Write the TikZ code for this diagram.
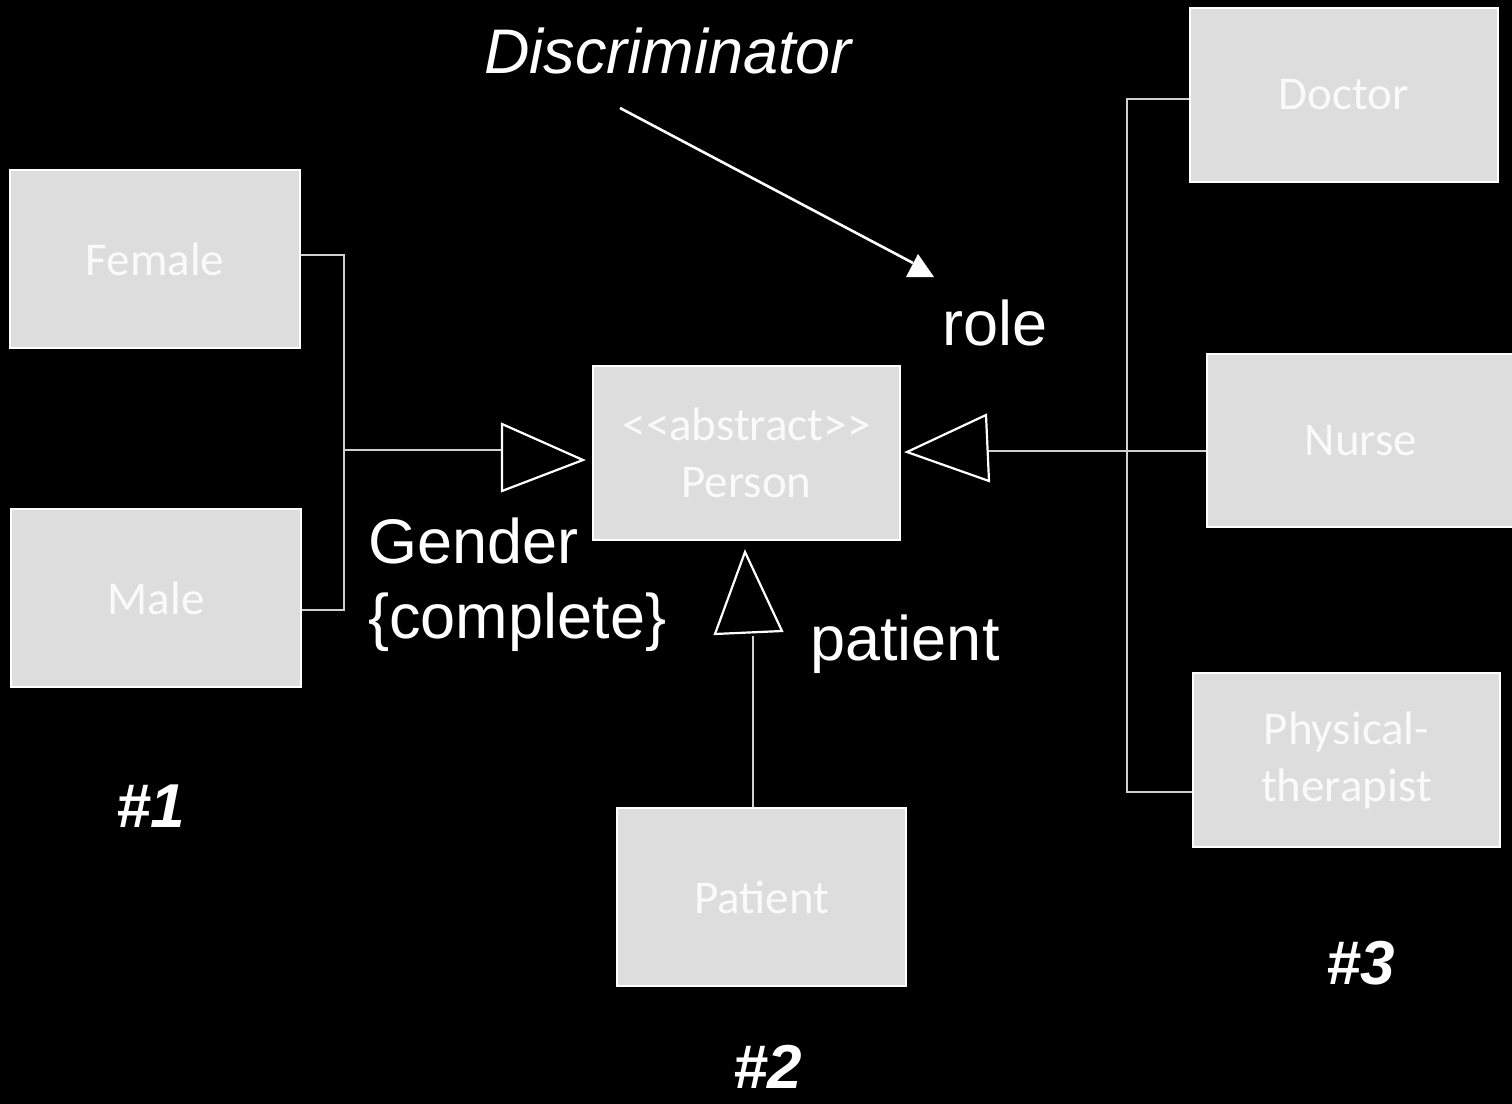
\documentclass[tikz,border=0pt]{standalone}
\usepackage{fontspec}
\setmainfont{Liberation Sans}
\newfontfamily\calibri{Carlito}
\definecolor{boxfill}{HTML}{DDDDDD}
\definecolor{boxtext}{HTML}{FAFAFA}
\definecolor{connline}{HTML}{D0D0D0}
\begin{document}
\begin{tikzpicture}[x=0.5pt,y=-0.5pt,
  classbox/.style={draw=white, line width=1pt, fill=boxfill, text=boxtext,
    font=\calibri\fontsize{23.5}{28.5}\selectfont, align=center, inner sep=0pt},
  conn/.style={draw=connline, line width=1pt},
  hollowtri/.style={draw=white, line width=1.1pt, line join=miter},
  label/.style={text=white, font=\fontsize{31.5}{37.5}\selectfont, inner sep=0pt},
  tag/.style={text=white, font=\bfseries\itshape\fontsize{31}{37}\selectfont, inner sep=0pt}]

% canvas
\fill[black] (0,0) rectangle (1512,1104);
\useasboundingbox (0,0) rectangle (1512,1104);

% classes
\node[classbox, minimum width=145pt, minimum height=89pt] (female) at (155,259) {Female};
\node[classbox, minimum width=145pt, minimum height=89pt] (male) at (156,598) {Male};
\node[classbox, minimum width=153.5pt, minimum height=87pt] (person) at (746.5,453) {<<abstract>>\\Person};
\node[classbox, minimum width=154pt, minimum height=87pt] (doctor) at (1344,95) {Doctor};
\node[classbox, minimum width=154pt, minimum height=86.5pt] (nurse) at (1361,440.5) {Nurse};
\node[classbox, minimum width=153.5pt, minimum height=87pt] (physio) at (1346.5,760) {Physical-\\therapist};
\node[classbox, minimum width=144.5pt, minimum height=89pt] (patient) at (761.5,897) {Patient};

% gender generalisation set
\coordinate (gjoin) at (344,450);
\coordinate (gbase) at (502,450);
\draw[conn] ([yshift=2pt]female.east) -| (gjoin) |- ([yshift=-6pt]male.east);
\draw[conn] (gjoin) -- (gbase);
\draw[hollowtri] (502,424) -- (583,460) -- (502,491) -- cycle;

% role generalisation set
\coordinate (rjoin) at (1127,451);
\coordinate (rbase) at (988,451);
\draw[conn] ([yshift=-2pt]doctor.west) -| (rjoin) |- ([yshift=-16pt]physio.west);
\draw[conn] ([yshift=-5.25pt]nurse.west) -- (rbase);
\draw[hollowtri] (907,452) -- (986,415) -- (989,481) -- cycle;

% patient generalisation
\coordinate (pbase) at (753,636);
\draw[conn] ([xshift=-4.25pt]patient.north) -- (pbase);
\draw[hollowtri] (745,552) -- (782,631) -- (715,634) -- cycle;

% discriminator pointer
\node[label, font=\itshape\fontsize{31.5}{37.5}\selectfont, anchor=base] (disc) at (668,73) {Discriminator};
\coordinate (dstart) at (620,108);
\coordinate (dend) at (913,263);
\draw[white, line width=1.3pt] (dstart) -- (dend);
\fill[white] (918,254) -- (934,277) -- (906,277) -- cycle;

% labels (a multi-line node's base is its last line)
\node[label, anchor=base west] (role) at (942,345) {role};
\node[label, anchor=base west, align=left] (gender) at (368,638) {Gender\\\{complete\}};
\node[label, anchor=base west] (patlab) at (810,660) {patient};

% set numbers
\node[tag, anchor=base] (n1) at (151,827) {\#1};
\node[tag, anchor=base] (n2) at (768,1088) {\#2};
\node[tag, anchor=base] (n3) at (1361,984) {\#3};
\end{tikzpicture}
\end{document}
